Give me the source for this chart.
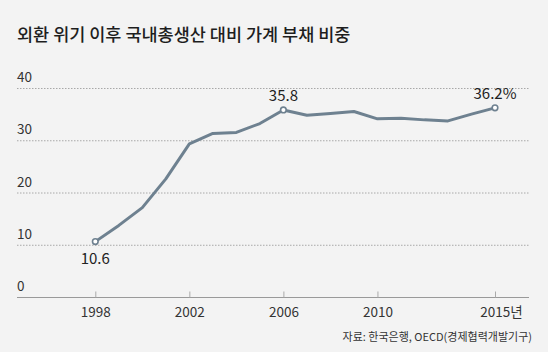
<!DOCTYPE html>
<html>
<head>
<meta charset="utf-8">
<script src="https://cdn.jsdelivr.net/npm/d3@7"></script>
<style>
  body { margin: 0; background: #f3f3f3; }
  svg { display: block; font-family: "Noto Sans CJK KR", "Noto Sans", sans-serif; }
</style>
</head>
<body>
<div id="content"></div>
<script>
const years = [1998, 1999, 2000, 2001, 2002, 2003, 2004, 2005, 2006, 2007, 2008, 2009, 2010, 2011, 2012, 2013, 2014, 2015];
const ratio = [10.6, 13.7, 17.1, 22.6, 29.3, 31.3, 31.5, 33.2, 35.8, 34.8, 35.1, 35.5, 34.1, 34.2, 33.9, 33.7, 35.0, 36.2];
const yTicks = [0, 10, 20, 30, 40];
const xTicks = [1998, 2002, 2006, 2010, 2015];
const xTickLabels = ["1998", "2002", "2006", "2010", "2015년"];
const callouts = [
  { year: 1998, text: "10.6" },
  { year: 2006, text: "35.8" },
  { year: 2015, text: "36.2%" },
];

const width = 548, height = 352;
const margin = { top: 88, right: 19, bottom: 55, left: 17 };
const lineColor = "#6e8190";

const svg = d3
  .select("#content")
  .append("svg")
  .attr("width", width)
  .attr("height", height);

svg.append("rect").attr("width", width).attr("height", height).attr("fill", "#f3f3f3");

// title
svg
  .append("text")
  .attr("x", 17)
  .attr("y", 41)
  .attr("font-size", 17.5)
  .attr("font-weight", 500)
  .attr("fill", "#1e1e1e")
  .text("외환 위기 이후 국내총생산 대비 가계 부채 비중");

const x = d3
  .scaleLinear()
  .domain([1998, 2015])
  .range([95.3, 495]);

const y = d3
  .scaleLinear()
  .domain([0, 40])
  .range([height - margin.bottom, margin.top]);

// gridlines + y labels
const grid = svg.append("g").attr("class", "grid");
grid
  .selectAll("line")
  .data(yTicks.filter((d) => d > 0))
  .enter()
  .append("line")
  .attr("x1", margin.left)
  .attr("x2", width - margin.right)
  .attr("y1", (d) => y(d) + 0.5)
  .attr("y2", (d) => y(d) + 0.5)
  .attr("stroke", "#a8a8a8")
  .attr("stroke-width", 1)
  .attr("stroke-dasharray", "1.5,1.5");

grid
  .selectAll("text")
  .data(yTicks)
  .enter()
  .append("text")
  .attr("x", margin.left)
  .attr("y", (d) => y(d) - 6)
  .attr("font-size", 13.5)
  .attr("fill", "#333")
  .text((d) => d);

// x axis
const xAxis = svg
  .append("g")
  .attr("class", "x-axis")
  .attr("transform", `translate(0,${y(0) + 0.5})`)
  .call(
    d3
      .axisBottom(x)
      .tickValues(xTicks)
      .tickSize(-6)
      .tickPadding(10)
      .tickFormat((d, i) => xTickLabels[i])
  );
xAxis.select(".domain").attr("d", `M${margin.left},0H${width - margin.right}`).attr("stroke", "#999");
xAxis.selectAll(".tick line").attr("stroke", "#aaa");
xAxis
  .selectAll(".tick text")
  .attr("font-size", 13.5)
  .attr("font-family", "'Noto Sans CJK KR', sans-serif")
  .attr("fill", "#333");
xAxis.selectAll(".tick").filter((d) => d === 2015).select("text").attr("dx", 6);

// line
const line = d3
  .line()
  .x((d, i) => x(years[i]))
  .y((d) => y(d));

svg
  .append("path")
  .datum(ratio)
  .attr("fill", "none")
  .attr("stroke", lineColor)
  .attr("stroke-width", 3)
  .attr("stroke-linejoin", "round")
  .attr("d", line);

// end points
svg
  .selectAll(".dot")
  .data(callouts)
  .enter()
  .append("circle")
  .attr("class", "dot")
  .attr("cx", (d) => x(d.year))
  .attr("cy", (d) => y(ratio[years.indexOf(d.year)]))
  .attr("r", 2.8)
  .attr("fill", "#fff")
  .attr("stroke", lineColor)
  .attr("stroke-width", 1.6);

svg
  .selectAll(".callout")
  .data(callouts)
  .enter()
  .append("text")
  .attr("class", "callout")
  .attr("x", (d) => x(d.year))
  .attr("y", (d) => y(ratio[years.indexOf(d.year)]) + (d.year === 1998 ? 22 : -9))
  .attr("text-anchor", "middle")
  .attr("font-size", 15)
  .attr("fill", "#222")
  .text((d) => d.text);

// source
svg
  .append("text")
  .attr("x", 532)
  .attr("y", 341)
  .attr("text-anchor", "end")
  .attr("font-size", 11)
  .attr("fill", "#333")
  .text("자료: 한국은행, OECD(경제협력개발기구)");
</script>
</body>
</html>
